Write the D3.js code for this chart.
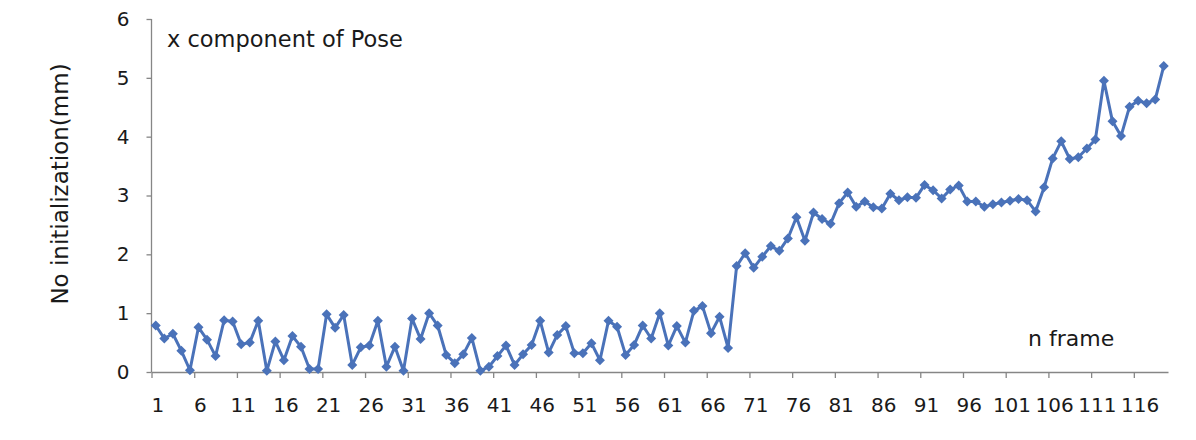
<!DOCTYPE html>
<html>
<head>
<meta charset="utf-8">
<script src="https://cdn.jsdelivr.net/npm/d3@7"></script>
<style>
  html, body { margin: 0; padding: 0; background: #ffffff; }
  svg { display: block; }
  text { font-family: "DejaVu Sans", sans-serif; fill: #1a1a1a; }
</style>
</head>
<body>
<svg id="chart" width="1196" height="440"></svg>
<script>
// ---- data ----
const frames = d3.range(1, 120); // categories 1..119
const values = [
  0.79, 0.57, 0.65, 0.36, 0.03, 0.76, 0.55, 0.27, 0.88, 0.86,
  0.47, 0.50, 0.87, 0.02, 0.52, 0.20, 0.61, 0.43, 0.05, 0.05,
  0.98, 0.75, 0.97, 0.12, 0.42, 0.45, 0.87, 0.09, 0.43, 0.02,
  0.91, 0.56, 1.00, 0.79, 0.29, 0.15, 0.30, 0.58, 0.02, 0.09,
  0.27, 0.45, 0.12, 0.30, 0.46, 0.87, 0.33, 0.63, 0.78, 0.32,
  0.32, 0.49, 0.20, 0.87, 0.77, 0.29, 0.46, 0.79, 0.57, 1.00,
  0.45, 0.78, 0.50, 1.04, 1.12, 0.66, 0.94, 0.41, 1.80, 2.02,
  1.77, 1.96, 2.14, 2.06, 2.27, 2.63, 2.23, 2.71, 2.60, 2.52,
  2.87, 3.05, 2.81, 2.90, 2.80, 2.78, 3.03, 2.92, 2.97, 2.96,
  3.18, 3.09, 2.95, 3.10, 3.17, 2.90, 2.90, 2.81, 2.85, 2.88,
  2.91, 2.94, 2.92, 2.73, 3.14, 3.63, 3.92, 3.62, 3.65, 3.80,
  3.95, 4.95, 4.26, 4.01, 4.51, 4.61, 4.57, 4.63, 5.20
];
const xTickLabels = ["1","6","11","16","21","26","31","36","41","46","51","56",
  "61","66","71","76","81","86","91","96","101","106","111","116"];
const yTickValues = [0, 1, 2, 3, 4, 5, 6];
const yTitle = "No initialization(mm)";
const xTitle = "n frame";
const chartNote = "x component of Pose";

// ---- layout ----
const svg = d3.select("#chart");
const plotLeft = 151.5, plotRight = 1168, plotTop = 19, plotBottom = 372;
const axisColor = "#868686";
const seriesColor = "#4a72b9";

// boundary scale: category k occupies [k-1, k]
const xb = d3.scaleLinear().domain([0, frames.length]).range([plotLeft, plotRight]);
const xc = f => xb(f - 0.5);
const y = d3.scaleLinear().domain([0, 6]).range([plotBottom, plotTop]);

// y axis
const yAxis = svg.append("g")
  .attr("transform", `translate(${plotLeft},0)`)
  .call(d3.axisLeft(y).tickValues(yTickValues).tickSize(5).tickPadding(17).tickFormat(d3.format("d")));
yAxis.selectAll("path, line").attr("stroke", axisColor).attr("stroke-width", 1.3);
yAxis.select(".domain").attr("d", `M0,${y(6)}V${y(0)}`);
yAxis.selectAll("text").attr("font-size", 20).attr("font-family", "DejaVu Sans, sans-serif").attr("fill", "#1a1a1a");

// x axis (tick marks at category boundaries every 5 categories)
const boundaryTicks = xTickLabels.map(l => +l - 1);
const xAxis = svg.append("g")
  .attr("transform", `translate(0,${plotBottom})`)
  .call(d3.axisBottom(xb).tickValues(boundaryTicks).tickSize(6).tickSizeOuter(0).tickFormat(""));
xAxis.selectAll("path, line").attr("stroke", axisColor).attr("stroke-width", 1.3);

// x labels centred on categories
svg.append("g").selectAll("text")
  .data(xTickLabels)
  .join("text")
  .attr("x", d => xc(+d) + 2)
  .attr("y", 412)
  .attr("text-anchor", "middle")
  .attr("font-size", 20)
  .text(d => d);

// line
const pts = frames.map((f, i) => [xc(f), y(values[i])]);
svg.append("path")
  .attr("d", d3.line()(pts))
  .attr("fill", "none")
  .attr("stroke", seriesColor)
  .attr("stroke-width", 3)
  .attr("stroke-linejoin", "round");

// diamond markers
const diamond = d3.symbol().type(d3.symbolSquare).size(50);
svg.append("g").selectAll("path")
  .data(frames)
  .join("path")
  .attr("d", diamond)
  .attr("transform", (f, i) => `translate(${xc(f)},${y(values[i])}) rotate(45)`)
  .attr("fill", seriesColor);

// titles
svg.append("text")
  .attr("transform", `translate(68,184) rotate(-90)`)
  .attr("text-anchor", "middle")
  .attr("font-size", 23)
  .text(yTitle);

svg.append("text")
  .attr("x", 1028)
  .attr("y", 346)
  .attr("font-size", 22)
  .text(xTitle);

svg.append("text")
  .attr("x", 167)
  .attr("y", 47)
  .attr("font-size", 22.5)
  .text(chartNote);
</script>
</body>
</html>
